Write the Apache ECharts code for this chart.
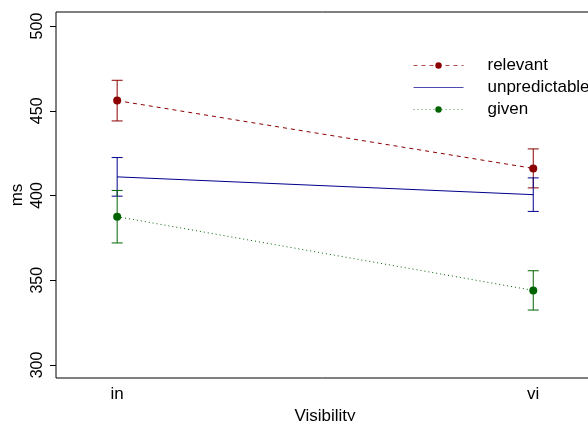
<!DOCTYPE html>
<html>
<head>
<meta charset="utf-8">
<script src="https://cdn.jsdelivr.net/npm/echarts@6/dist/echarts.min.js"></script>
<style>html,body{margin:0;padding:0;background:#fff;}#c{width:588px;height:421px;}</style>
</head>
<body>
<div id="c"></div>
<script>
var categories = ['in', 'vi'];
var xPositions = [1, 2];
var yTicks = [300, 350, 400, 450, 500];
var seriesNames = ['relevant', 'unpredictable', 'given'];
var relevantMean = [456, 416];
var relevantErr = [12, 11.5];
var unpredictableMean = [411, 400.5];
var unpredictableErr = [11.4, 9.9];
var givenMean = [387.5, 344];
var givenErr = [15.5, 11.6];

var colors = ['#8B0000', '#00008B', '#006400'];
var means = [relevantMean, unpredictableMean, givenMean];
var errs = [relevantErr, unpredictableErr, givenErr];
var lineTypes = [[4, 4], 'solid', [1, 3]];
var symbols = ['circle', 'none', 'circle'];
var FONT = 'Liberation Sans, Arial, sans-serif';

function pts(m) { return xPositions.map(function (x, i) { return [x, m[i]]; }); }
function bars(m, e) { return xPositions.map(function (x, i) { return [x, m[i] - e[i], m[i] + e[i]]; }); }

var series = [];
for (var k = 0; k < 3; k++) {
  (function (k) {
    series.push({
      type: 'custom',
      name: 'err_' + seriesNames[k],
      data: bars(means[k], errs[k]),
      silent: true,
      z: 2,
      renderItem: function (params, api) {
        var x = api.value(0), lo = api.value(1), hi = api.value(2);
        var a = api.coord([x, hi]), b = api.coord([x, lo]);
        var w = 5.5;
        var st = { stroke: colors[k], lineWidth: 1 };
        return {
          type: 'group',
          children: [
            { type: 'line', shape: { x1: a[0], y1: a[1], x2: b[0], y2: b[1] }, style: st },
            { type: 'line', shape: { x1: a[0] - w, y1: a[1], x2: a[0] + w, y2: a[1] }, style: st },
            { type: 'line', shape: { x1: b[0] - w, y1: b[1], x2: b[0] + w, y2: b[1] }, style: st }
          ]
        };
      }
    });
    series.push({
      type: 'line',
      name: seriesNames[k],
      data: pts(means[k]),
      z: 3,
      symbol: symbols[k],
      symbolSize: 8,
      showSymbol: symbols[k] !== 'none',
      itemStyle: { color: colors[k] },
      lineStyle: { color: colors[k], width: 1, type: lineTypes[k] },
      animation: false
    });
  })(k);
}

var legendData = seriesNames.map(function (n, i) {
  var d = { name: n };
  if (symbols[i] === 'none') d.itemStyle = { opacity: 0 };
  return d;
});

var chart = echarts.init(document.getElementById('c'), null, { renderer: 'canvas' });
chart.setOption({
  animation: false,
  backgroundColor: '#fff',
  textStyle: { fontFamily: FONT },
  grid: { left: 56, right: -6, top: 12, bottom: 43, containLabel: false, outerBoundsMode: 'none', show: true, borderColor: '#000', borderWidth: 1, backgroundColor: 'transparent' },
  legend: {
    data: legendData,
    orient: 'vertical',
    left: 413,
    top: 57,
    padding: 0,
    itemWidth: 50,
    itemHeight: 8,
    itemGap: 5,
    lineStyle: { width: 1, opacity: 0.7 },
    textStyle: { fontFamily: FONT, fontSize: 17, color: '#000', padding: [0, 0, 0, 19] },
    selectedMode: false
  },
  xAxis: {
    type: 'value',
    min: 0.853,
    max: 2.146,
    name: 'Visibility',
    nameLocation: 'middle',
    nameGap: 27,
    nameTextStyle: { fontFamily: FONT, fontSize: 17, color: '#000' },
    splitLine: { show: false },
    axisLine: { show: false },
    axisTick: { show: false },
    axisLabel: {
      customValues: xPositions,
      formatter: function (v) { return categories[Math.round(v) - 1]; },
      fontFamily: FONT, fontSize: 17, color: '#000', margin: 8
    }
  },
  yAxis: {
    type: 'value',
    min: 292.3,
    max: 508.3,
    name: 'ms',
    nameLocation: 'middle',
    nameRotate: 90,
    nameGap: 30,
    nameMoveOverlap: false,
    nameTextStyle: { fontFamily: FONT, fontSize: 17, color: '#000' },
    splitLine: { show: false },
    axisLine: { show: false },
    axisTick: { show: true, length: 6, customValues: yTicks, lineStyle: { color: '#000', width: 1 } },
    axisLabel: {
      customValues: yTicks,
      rotate: 90,
      fontFamily: FONT, fontSize: 16, color: '#000', margin: 10
    }
  },
  series: series
});
</script>
</body>
</html>
